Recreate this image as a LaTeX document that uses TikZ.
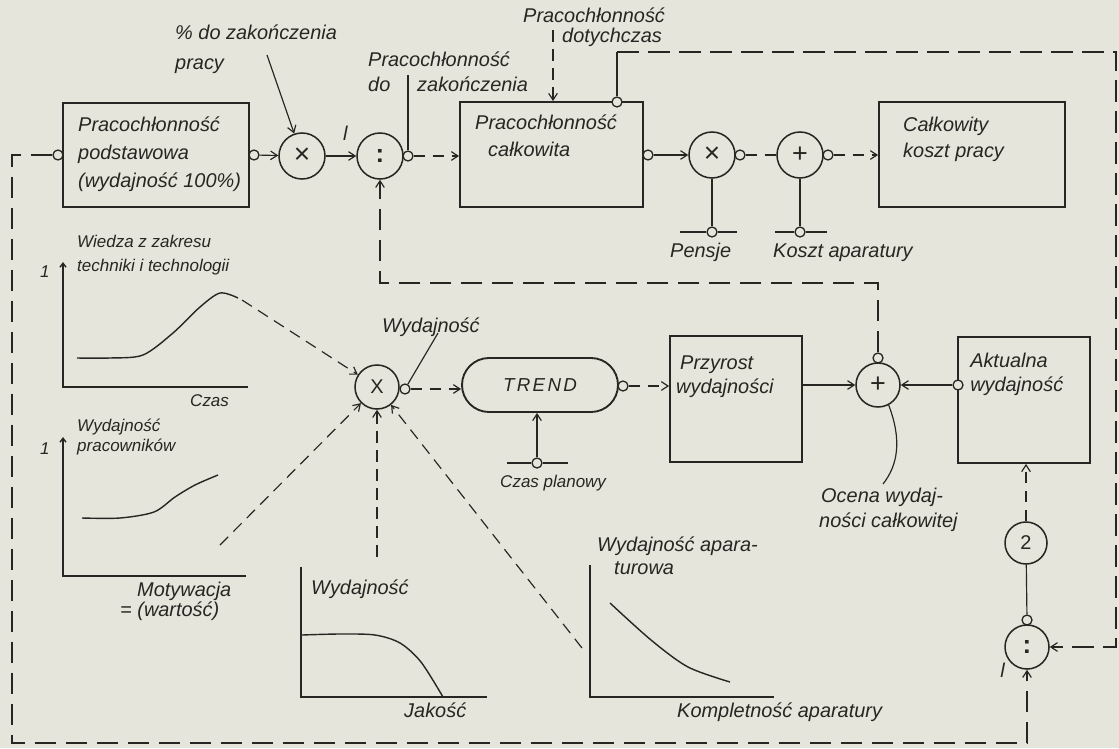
\documentclass[tikz,border=0pt]{standalone}
\usepackage{fontspec}
\setmainfont{Liberation Sans}
\usetikzlibrary{arrows.meta}
\definecolor{paper}{RGB}{230,229,219}
\definecolor{ink}{RGB}{38,38,34}
\newcommand\lf{\fontsize{17}{20}\selectfont\itshape}
\newcommand\lfs{\fontsize{14.5}{18}\selectfont\itshape}
\newcommand\bigx{{\fontsize{24}{24}\selectfont ×}}
\newcommand\bigplus{{\fontsize{23}{23}\selectfont +}}
\newcommand\bigcolon{{\fontsize{22}{22}\selectfont\bfseries :}}
\begin{document}
\begin{tikzpicture}[x=0.3mm,y=-0.3mm,
  every node/.style={text=ink},
  box/.style={draw=ink, line width=1.6pt, inner sep=0},
  op/.style={circle, draw=ink, line width=1.3pt, minimum size=13.8mm, inner sep=0, font=\fontsize{17}{17}\selectfont},
  port/.style={circle, draw=ink, fill=paper, line width=1.1pt, minimum size=3mm, inner sep=0},
  lbl/.style={font=\lf, inner sep=0, text height=12pt, text depth=3.5pt, anchor=west},
  slbl/.style={lbl, font=\lfs},
  ln/.style={draw=ink, line width=1pt},
  arr/.style={ln, -{Straight Barb[length=2mm,width=2.6mm]}},
  axarr/.style={ln, line width=1.2pt, {Straight Barb[length=1.2mm,width=1.8mm]}-},
  dsh/.style={dash pattern=on 6.5mm off 2.8mm},
  dshs/.style={dash pattern=on 3.5mm off 2.2mm},
]
\useasboundingbox (0,0) rectangle (1119,748);
\fill[paper] (0,0) rectangle (1119,748);

% ---------- boxes ----------
\node[box, minimum width=55.8mm, minimum height=31.2mm] (B1) at (156,155) {};
\node[box, minimum width=54.9mm, minimum height=31.5mm] (B2) at (551.5,154.5) {};
\node[box, minimum width=55.8mm, minimum height=31.5mm] (B3) at (972,154.5) {};
\node[box, minimum width=39.6mm, minimum height=37.8mm] (BP) at (736,399) {};
\node[box, minimum width=39.6mm, minimum height=37.8mm] (BA) at (1024,400) {};
\node[box, minimum width=46.8mm, minimum height=16.2mm, rounded corners=8.1mm] (TR) at (540,385) {\fontsize{16}{16}\selectfont\itshape T\kern2pt R\kern2pt E\kern2pt N\kern2pt D};

% ---------- operator circles ----------
\node[op] (M1) at (302,156) {\bigx};
\node[op] (D1) at (380,156) {\bigcolon};
\node[op] (M2) at (712,155) {\bigx};
\node[op] (S1) at (800,155) {\bigplus};
\node[op, minimum size=13.2mm] (M3) at (377,387) {X};
\node[op, minimum size=13.2mm] (S2) at (878,385) {\bigplus};
\node[op, minimum size=12.6mm] (C2) at (1026,543) {2};
\node[op, minimum size=13.2mm] (D2) at (1027,647) {\bigcolon};

% ---------- ports ----------
\node[port] (p1L) at (58,155) {};
\node[port] (p1R) at (254,155) {};
\node[port] (pD1) at (408,156) {};
\node[port] (p2T) at (617,102) {};
\node[port] (p2R) at (648,155) {};
\node[port] (pM2R) at (740,155) {};
\node[port] (pS1R) at (828,155) {};
\node[port] (pPen) at (712,232) {};
\node[port] (pKos) at (800,232) {};
\node[port] (pM3R) at (405,389) {};
\node[port] (pTR) at (623,386) {};
\node[port] (pCz) at (537,463) {};
\node[port] (pS2T) at (878,358) {};
\node[port] (pAL) at (958,385) {};
\node[port] (pD2T) at (1027,620) {};

% ---------- texts ----------
\node[lbl] (tpct1) at (175,35) {\% do zakończenia};
\node[lbl] (tpct2) at (175,65) {pracy};
\node[lbl] (tb1a) at (78,127) {Pracochłonność};
\node[lbl] (tb1b) at (78,155) {podstawowa};
\node[lbl] (tb1c) at (78,183) {(wydajność 100\%)};
\node[lbl] (tl1) at (343,136) {l};
\node[lbl] (tdz1) at (368,62) {Pracochłonność};
\node[lbl] (tdz2) at (368,87) {do};
\node[lbl] (tdz3) at (417,87) {zakończenia};
\node[lbl] (tdt1) at (523,18) {Pracochłonność};
\node[lbl] (tdt2) at (562,38) {dotychczas};
\node[lbl] (tb2a) at (475,125) {Pracochłonność};
\node[lbl] (tb2b) at (488,152) {całkowita};
\node[lbl] (tb3a) at (903,127) {Całkowity};
\node[lbl] (tb3b) at (903,153) {koszt pracy};
\node[lbl] (tpen) at (670,253) {Pensje};
\node[lbl] (tkos) at (773,253) {Koszt aparatury};
\node[slbl] (tg1a) at (77,243) {Wiedza z zakresu};
\node[slbl] (tg1b) at (77,267) {techniki i technologii};
\node[slbl] (tg1n) at (40,273) {1};
\node[slbl] (tg1x) at (190,402) {Czas};
\node[slbl] (tg2a) at (77,427) {Wydajność};
\node[slbl] (tg2b) at (77,447) {pracowników};
\node[slbl] (tg2n) at (40,450) {1};
\node[lbl] (tg2x1) at (137,592) {Motywacja};
\node[lbl] (tg2x2) at (120,612) {= (wartość)};
\node[lbl] (tg3y) at (311,590) {Wydajność};
\node[lbl] (tg3x) at (404,713) {Jakość};
\node[lbl] (tg4y1) at (597,547) {Wydajność apara-};
\node[lbl] (tg4y2) at (614,570) {turowa};
\node[lbl] (tg4x) at (677,713) {Kompletność aparatury};
\node[lbl] (twyd) at (382,328) {Wydajność};
\node[slbl] (tczp) at (500,483) {Czas planowy};
\node[lbl] (tbpa) at (680,365) {Przyrost};
\node[lbl] (tbpb) at (676,389) {wydajności};
\node[lbl] (tbaa) at (970,363) {Aktualna};
\node[lbl] (tbab) at (970,387) {wydajność};
\node[lbl] (toc1) at (821,498) {Ocena wydaj-};
\node[lbl] (toc2) at (819,523) {ności całkowitej};
\node[lbl] (tl2) at (1000,673) {l};

% ---------- free ends ----------
\coordinate (cpct) at (267,55);
\coordinate (cdz) at (408,75);
\coordinate (cdot) at (553,30);
\coordinate (penL) at (680,232);
\coordinate (penR) at (737,232);
\coordinate (kosL) at (775,232);
\coordinate (kosR) at (827,232);
\coordinate (czL) at (507,463);
\coordinate (czR) at (568,463);
\coordinate (cwy) at (438,333);
\coordinate (coc) at (883,484);
\coordinate (g1e) at (242,300);
\coordinate (g2e) at (220,545);
\coordinate (g3e) at (377,557);
\coordinate (g4e) at (582,648);

% ---------- connectors ----------
\draw[arr] (cpct) -- (M1);
\draw[arr] (p1R) -- (M1);
\draw[arr] (M1) -- (D1);
\draw[ln] (cdz) -- (pD1.north);
\draw[arr,dshs] (pD1.east) -- (pD1.east -| B2.west);
\draw[arr,dshs] (cdot) -- (cdot |- B2.north);
\draw[arr] (p2R) -- (M2);
\draw[ln,dshs] (pM2R) -- (S1);
\draw[arr,dshs] (pS1R) -- (pS1R -| B3.west);
\draw[ln] (M2) -- (pPen);
\draw[ln] (penL) -- (pPen.west) (pPen.east) -- (penR);
\draw[ln] (S1) -- (pKos);
\draw[ln] (kosL) -- (pKos.west) (pKos.east) -- (kosR);

% big feedback loops
\draw[arr,dsh] (p1L.west) -- (12,155) -- (12,743) -| (D2.south);
\draw[ln] (p2T.north) -- (617,52);
\draw[arr,dsh] (617,52) -- (1116,52) |- (D2.east);
\draw[arr,dsh] (pS2T.north) |- (380,283) -- (D1.south);

% middle row
\draw[ln] (cwy) -- (pM3R);
\draw[arr,dshs] (pM3R) -- (pM3R -| TR.west);
\draw[arr,dshs] (pTR) -- (pTR -| BP.west);
\draw[arr] (pCz) -- (pCz |- TR.south);
\draw[ln] (czL) -- (pCz.west) (pCz.east) -- (czR);
\draw[arr] (S2 -| BP.east) -- (S2);
\draw[arr] (pAL) -- (S2);
\draw[ln] (S2.-62) .. controls (902,440) and (898,465) .. (coc);
\draw[arr,dshs] (C2) -- (C2 |- BA.south);
\draw[ln] (pD2T) -- (C2);

% inputs of the efficiency multiplier
\draw[arr,dshs] (g1e) -- (M3);
\draw[arr,dshs] (g2e) -- (M3);
\draw[arr,dshs] (g3e) -- (M3);
\draw[arr,dshs] (g4e) -- (M3);

% ---------- graphs ----------
\draw[axarr] (63,262) -- (63,387) -- (248,387);
\draw[ln, line width=1.2pt] plot[smooth] coordinates {(77,358) (110,358) (143,355) (173,333) (200,307) (220,293) (238,298)};
\draw[axarr] (63,437) -- (63,576) -- (246,576);
\draw[ln, line width=1.2pt] plot[smooth] coordinates {(82,518) (120,518) (154,512) (175,497) (195,485) (218,475)};
\draw[ln, line width=1.2pt] (301,567) -- (301,697) -- (487,697);
\draw[ln, line width=1.2pt] plot[smooth] coordinates {(302,635) (340,634) (375,635) (400,643) (421,662) (443,697)};
\draw[ln, line width=1.2pt] (590,565) -- (590,697) -- (774,697);
\draw[ln, line width=1.2pt] plot[smooth] coordinates {(610,603) (651,640) (688,667) (730,682)};
\end{tikzpicture}
\end{document}
